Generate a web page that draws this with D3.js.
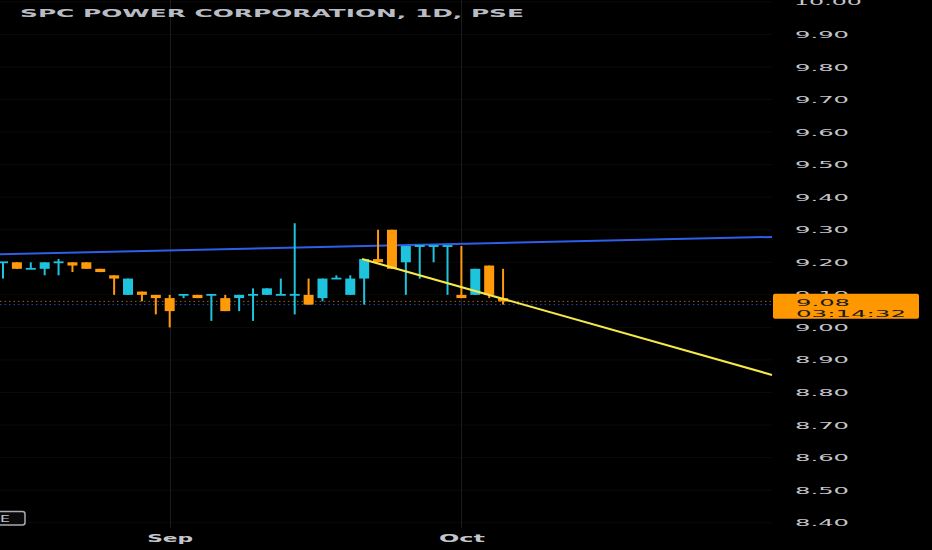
<!DOCTYPE html>
<html><head><meta charset="utf-8">
<script src="https://cdn.jsdelivr.net/npm/d3@7"></script>
<style>html,body{margin:0;padding:0;background:#000;overflow:hidden}</style>
</head><body><svg id="c" width="932" height="550"></svg>
<script>
const title = "SPC POWER CORPORATION, 1D, PSE";
const opens  = [9.20,9.20,9.18,9.18,9.20,9.20,9.20,9.18,9.16,9.10,9.11,9.10,9.09,9.10,9.10,9.10,9.09,9.09,9.10,9.10,9.10,9.10,9.10,9.09,9.15,9.10,9.15,9.21,9.30,9.20,9.25,9.25,9.25,9.10,9.10,9.19,9.09];
const highs  = [9.20,9.20,9.20,9.20,9.21,9.20,9.20,9.18,9.16,9.15,9.11,9.10,9.10,9.10,9.10,9.10,9.10,9.10,9.12,9.12,9.15,9.32,9.15,9.15,9.16,9.16,9.21,9.30,9.30,9.25,9.25,9.25,9.25,9.25,9.18,9.19,9.18];
const lows   = [9.15,9.18,9.18,9.16,9.16,9.17,9.18,9.17,9.10,9.10,9.08,9.04,9.00,9.09,9.09,9.02,9.05,9.05,9.02,9.10,9.10,9.04,9.07,9.08,9.15,9.10,9.07,9.20,9.18,9.10,9.15,9.20,9.10,9.09,9.10,9.09,9.07];
const closes = [9.20,9.18,9.18,9.20,9.20,9.19,9.18,9.17,9.15,9.15,9.10,9.09,9.05,9.10,9.09,9.10,9.05,9.10,9.10,9.12,9.10,9.10,9.07,9.15,9.15,9.15,9.21,9.20,9.18,9.25,9.25,9.25,9.25,9.09,9.18,9.10,9.08];
const monthTickIndex = [12, 33];
const monthLabels = ["Sep", "Oct"];
const priceTicks = ["10.00","9.90","9.80","9.70","9.60","9.50","9.40","9.30","9.20","9.10","9.00","8.90","8.80","8.70","8.60","8.50","8.40"];
const lastPrice = 9.08;
const lastPriceLabel = "9.08";
const countdown = "03:14:32";
const secondLine = 9.07;
const blueTrend = [[-0.22, 9.225], [55.36, 9.278]];
const yellowTrend = [[25.85, 9.21], [55.36, 8.854]];

const UP = "#1ec3dd", DOWN = "#ff9a0a";
const svg = d3.select("#c");
svg.append("rect").attr("width",932).attr("height",550).attr("fill","#000");

const x = d3.scaleLinear().domain([-0.216, 55.36]).range([0, 772]);
const y = d3.scaleLinear().domain([8.4, 10.0]).range([522.7, 1.9]);

// grid
svg.append("g").selectAll("line").data(priceTicks).join("line")
  .attr("x1",0).attr("x2",772).attr("y1",d=>y(+d)).attr("y2",d=>y(+d))
  .attr("stroke","#0b0b0b").attr("stroke-width",1);
svg.append("g").selectAll("line").data(monthTickIndex).join("line")
  .attr("x1",d=>Math.round(x(d))+0.5).attr("x2",d=>Math.round(x(d))+0.5).attr("y1",0).attr("y2",528)
  .attr("stroke","#1c1c1c").attr("stroke-width",1);

// dotted price lines
svg.append("line").attr("x1",0).attr("x2",774).attr("y1",y(lastPrice)).attr("y2",y(lastPrice))
  .attr("stroke","#c07a20").attr("stroke-width",1).attr("stroke-dasharray","1.5,3").attr("opacity",0.8);
svg.append("line").attr("x1",0).attr("x2",772).attr("y1",y(secondLine)).attr("y2",y(secondLine))
  .attr("stroke","#3a5bd0").attr("stroke-width",1).attr("stroke-dasharray","1.5,3").attr("opacity",0.8);

// trend lines
const line = d3.line().x(d=>x(d[0])).y(d=>y(d[1]));
svg.append("path").attr("d",line(blueTrend)).attr("stroke","#2d5fe8").attr("stroke-width",2).attr("fill","none");

// candles
const data = opens.map((o,i)=>({i,o,h:highs[i],l:lows[i],c:closes[i]}));
const g = svg.append("g");
const bw = 10;
data.forEach(d=>{
  const col = d.c >= d.o ? UP : DOWN;
  const cx = x(d.i);
  g.append("line").attr("x1",cx).attr("x2",cx).attr("y1",y(d.h)).attr("y2",y(d.l))
    .attr("stroke",col).attr("stroke-width",2);
  const top = y(Math.max(d.o,d.c)), bot = y(Math.min(d.o,d.c));
  const hgt = Math.max(bot-top, 1.8);
  g.append("rect").attr("x",cx-bw/2).attr("width",bw).attr("y",top-(hgt>bot-top?0.9:0)).attr("height",hgt)
    .attr("fill",col);
});

svg.append("path").attr("d",line(yellowTrend)).attr("stroke","#f5e84a").attr("stroke-width",2).attr("fill","none");

// title
svg.append("text").attr("x",20).attr("y",16.8).text(title)
  .attr("font-family","DejaVu Sans").attr("font-weight","bold").attr("font-size",10)
  .attr("fill","#b9bcc4").attr("textLength",504).attr("lengthAdjust","spacingAndGlyphs");

// y axis
const yAxis = d3.axisRight(y).tickValues(priceTicks.map(Number))
  .tickFormat((d,i)=>priceTicks[i]).tickSize(0).tickPadding(0);
const ya = svg.append("g").attr("transform","translate(795,0)").call(yAxis);
ya.select(".domain").remove();
ya.selectAll("text").attr("font-family","DejaVu Sans").attr("font-size",9.5).attr("fill","#c4c6cc")
  .attr("textLength",function(){return this.textContent.length>4?68:54;}).attr("lengthAdjust","spacingAndGlyphs")
  .attr("x",function(){return this.textContent.length>4?-1:0;});

// x axis
const xAxis = d3.axisBottom(x).tickValues(monthTickIndex).tickFormat((d,i)=>monthLabels[i]).tickSize(0).tickPadding(0);
const xa = svg.append("g").attr("transform","translate(0,534.5)").call(xAxis);
xa.select(".domain").remove();
xa.selectAll("text").attr("font-family","DejaVu Sans").attr("font-weight","bold").attr("font-size",10.5)
  .attr("fill","#c4c6cc").attr("textLength",46).attr("lengthAdjust","spacingAndGlyphs");

// last price box
svg.append("rect").attr("x",773).attr("y",y(lastPrice)-7.5).attr("width",146).attr("height",25)
  .attr("rx",2).attr("fill","#ff9800");
svg.append("text").attr("x",796).attr("y",y(lastPrice)+4.6).text(lastPriceLabel)
  .attr("font-family","DejaVu Sans").attr("font-size",9.5).attr("fill","#1a1a1a")
  .attr("textLength",54).attr("lengthAdjust","spacingAndGlyphs");
svg.append("text").attr("x",796).attr("y",y(lastPrice)+15.3).text(countdown)
  .attr("font-family","DejaVu Sans").attr("font-size",9.5).attr("fill","#1a1a1a")
  .attr("textLength",110).attr("lengthAdjust","spacingAndGlyphs");

// bottom-left button
svg.append("rect").attr("x",-20).attr("y",511.5).attr("width",45).attr("height",13.5).attr("rx",2.5)
  .attr("fill","#0a0a0a").attr("stroke","#a8abb2").attr("stroke-width",1.5);
svg.append("text").attr("x",10).attr("y",522).attr("text-anchor","end").text("E")
  .attr("font-family","DejaVu Sans").attr("font-size",9.5).attr("fill","#c4c6cc")
  .attr("textLength",10).attr("lengthAdjust","spacingAndGlyphs");
</script></body></html>
